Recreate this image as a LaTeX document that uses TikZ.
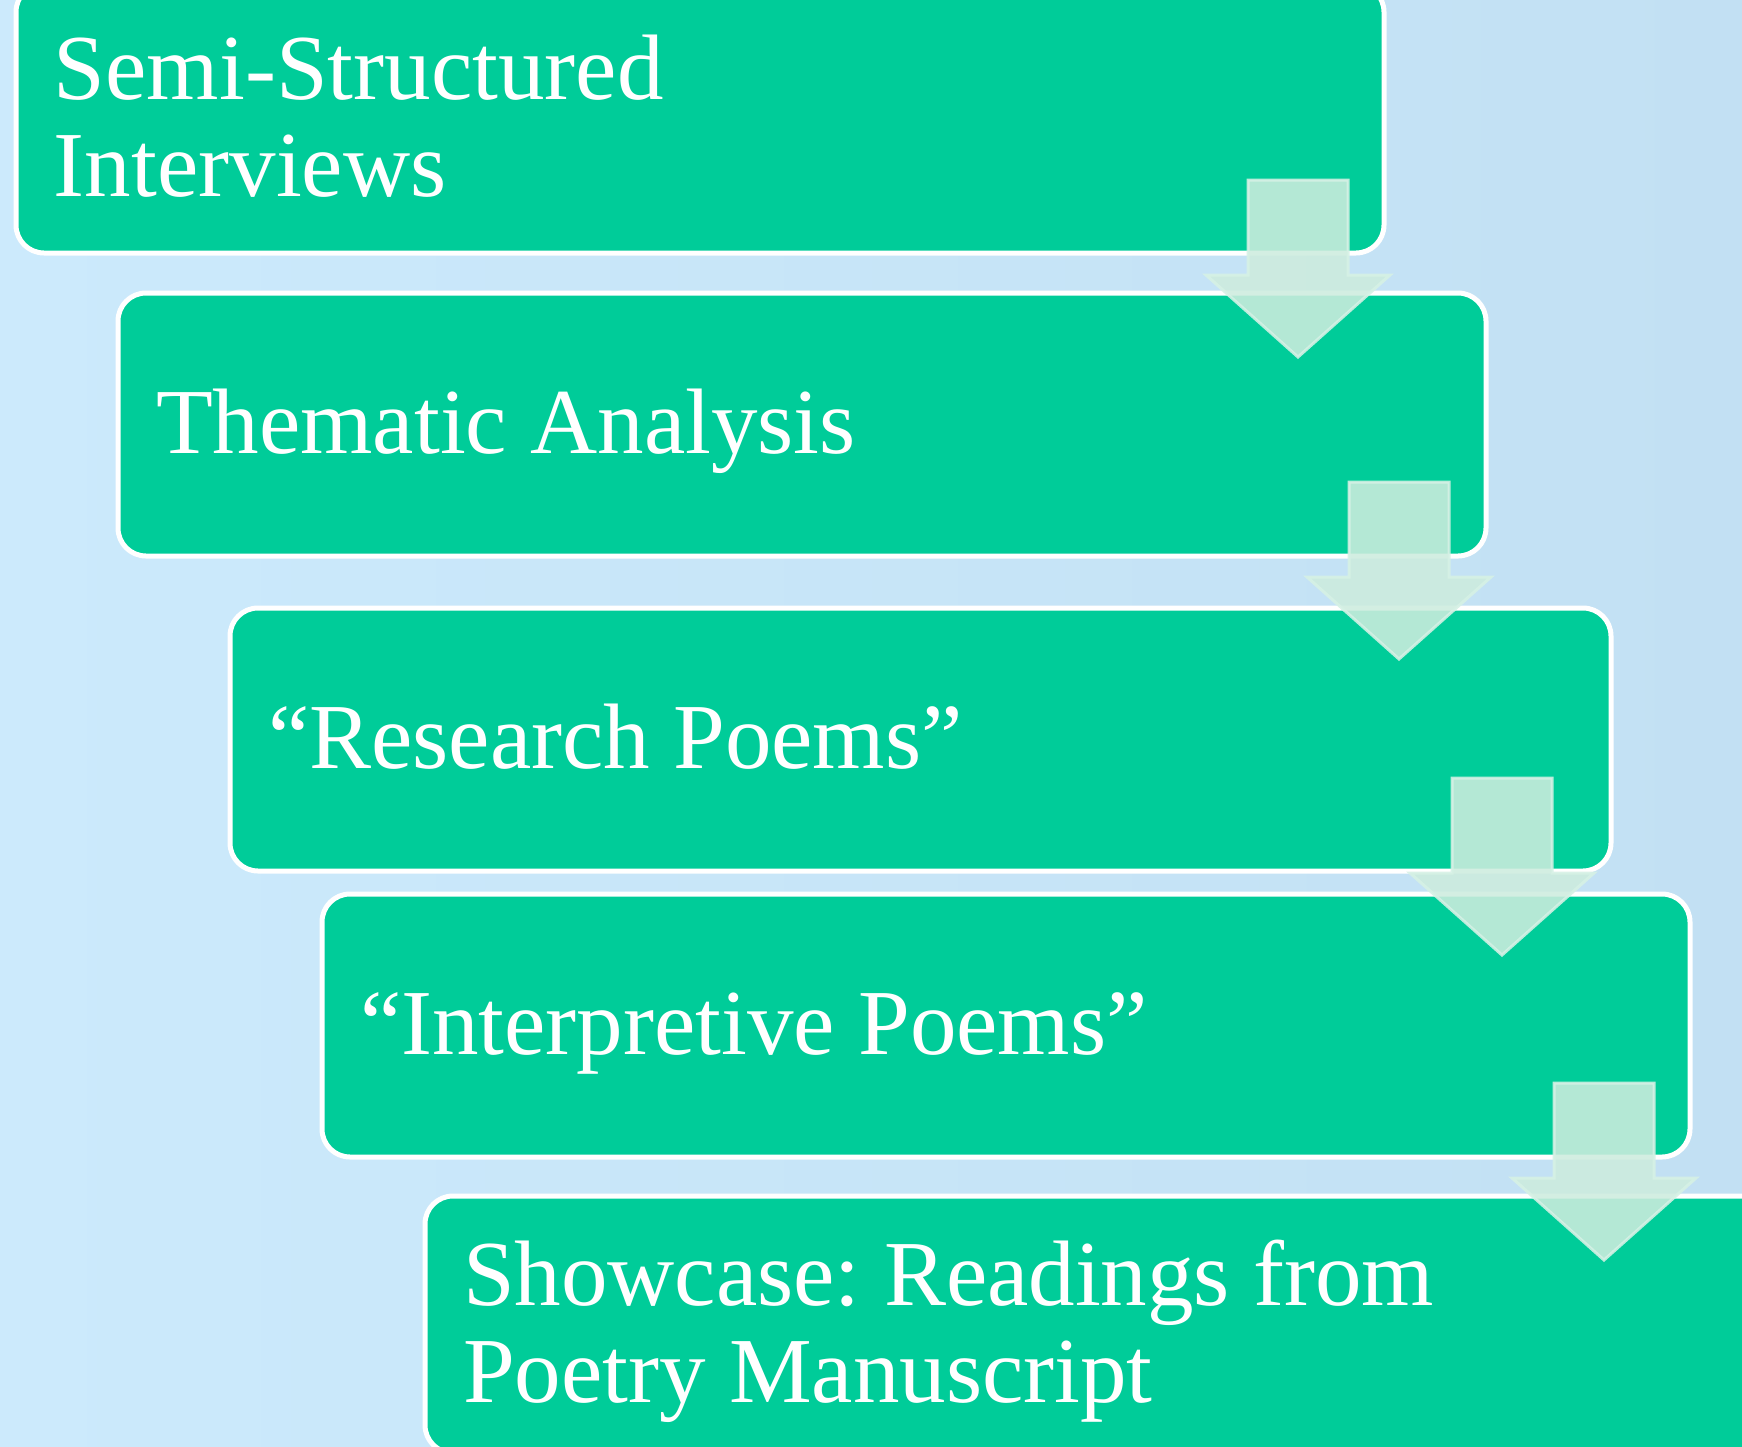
\documentclass[tikz,border=0pt]{standalone}
\usepackage{fontspec}
\setmainfont{Liberation Serif}
\usepackage{tikz}
\usepackage{xcolor}
\definecolor{stagegreen}{RGB}{0,204,153}
\definecolor{bgleft}{RGB}{204,234,252}
\definecolor{bgright}{RGB}{194,224,243}
\definecolor{arrowfill}{RGB}{205,236,222}
\definecolor{arrowedge}{RGB}{214,241,229}
\newcommand{\linetop}{\spaceskip=0pt\xspaceskip=0pt\rule{0pt}{0.85em}}
\newcommand{\linebot}{\rule[-0.216em]{0pt}{0pt}}
\frenchspacing

\begin{document}
\begin{tikzpicture}[x=0.5pt,y=-0.5pt,
    stage/.style={draw=white,line width=2.5pt,fill=stagegreen,rounded corners=14pt,
      anchor=north west,minimum height=131.5pt,minimum width=684pt,text width=646pt,
      align=left,inner xsep=19pt,inner ysep=0pt,outer sep=0pt,text=white,
      font=\fontsize{46.5}{48.5}\selectfont},
    flowarrow/.style={fill=arrowfill,draw=arrowedge,line width=1.5pt,opacity=0.88}]
        \useasboundingbox (0,0) rectangle (1742,1447);
        \clip (0,0) rectangle (1742,1447);
        \shade[left color=bgleft,right color=bgright] (0,0) rectangle (1742,1447);
        \node[stage,minimum height=134.5pt] (b1) at (16,-16) {\linetop Semi-Structured\\Interviews\linebot};
        \node[stage] (b2) at (118,293) {\linetop Thematic Analysis\linebot};
        \node[stage,minimum width=690.5pt,text width=652.5pt] (b3) at (230,608) {\linetop “Research Poems”\linebot};
        \node[stage] (b4) at (322,894) {\linetop “Interpretive Poems”\linebot};
        \node[stage,minimum height=128.5pt] (b5) at (425,1196) {\linetop Showcase: Readings from\\Poetry Manuscript\linebot};
        \foreach \a/\dx/\dy in {b1/-86/-73,b2/-87/-74,b3/-109/-93,b4/-86/-74}{
        \draw[flowarrow]([shift={(\dx-50,\dy)}]\a.south east)--++(100,0)--++(0,95)--++(42,0)--++(-92,82)--++(-92,-82)--++(42,0)--cycle;
        }
    \end{tikzpicture}
\end{document}
